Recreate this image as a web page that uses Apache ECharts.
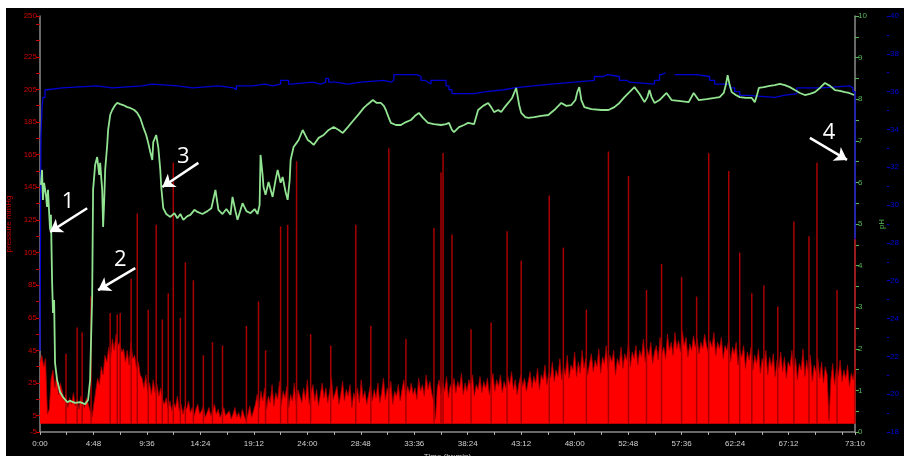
<!DOCTYPE html>
<html>
<head>
<meta charset="utf-8">
<script src="https://cdn.jsdelivr.net/npm/echarts@6/dist/echarts.min.js"></script>
<style>
html, body { margin: 0; padding: 0; background: #fff; width: 904px; height: 456px; overflow: hidden; }
#chart { position: absolute; left: 6px; top: 8px; width: 898px; height: 448px; background: #000; }
</style>
</head>
<body>
<div id="chart"></div>
<script>
// ---- recording data ----
// pressure sampled every SAMPLE_MIN minutes (mmHg)
const SAMPLE_MIN = 10;
const pressure = [
  38, 42, 35, 40, 6, 9, 28, 33, 22, 30, 18, 25, 20, 14, 18, 10, 16, 12, 19, 11,
  15, 9, 17, 13, 10, 16, 12, 8, 4, 3, 20, 28, 24, 35, 30, 42, 38, 47, 40, 52,
  45, 55, 48, 50, 44, 46, 38, 45, 36, 50, 40, 42, 34, 38, 30, 28, 22, 30, 20, 25,
  18, 27, 19, 24, 17, 22, 15, 12, 16, 9, 14, 8, 13, 10, 17, 8, 12, 6, 11, 9,
  14, 7, 10, 5, 9, 12, 6, 8, 11, 4, 7, 10, 5, 8, 12, 6, 9, 4, 7, 10,
  5, 4, 8, 3, 6, 10, 4, 7, 3, 9, 5, 2, 6, 11, 4, 8, 12, 18, 10, 20,
  14, 22, 9, 17, 13, 24, 11, 19, 15, 26, 12, 20, 16, 23, 10, 18, 14, 25, 12, 21,
  17, 13, 22, 15, 27, 12, 19, 24, 14, 21, 11, 18, 25, 16, 22, 13, 20, 28, 15, 19,
  23, 12, 18, 26, 14, 21, 17, 24, 10, 19, 15, 22, 13, 27, 16, 20, 12, 18, 24, 14,
  21, 16, 25, 13, 19, 28, 15, 22, 18, 26, 12, 20, 17, 24, 14, 21, 27, 16, 23, 19,
  25, 18, 22, 15, 28, 20, 24, 17, 30, 21, 26, 19, 14, 3, 22, 27, 18, 25, 20, 29,
  16, 24, 21, 28, 19, 26, 22, 31, 18, 25, 20, 27, 23, 30, 17, 24, 21, 29, 19, 26,
  22, 28, 18, 25, 31, 20, 27, 23, 30, 19, 26, 22, 29, 24, 32, 21, 27, 18, 25, 30,
  23, 28, 20, 26, 32, 22, 29, 25, 34, 21, 30, 27, 36, 24, 31, 28, 38, 26, 33, 29,
  40, 27, 35, 30, 42, 28, 36, 33, 44, 29, 38, 31, 45, 34, 40, 30, 37, 43, 32, 39,
  35, 46, 31, 41, 37, 48, 33, 42, 38, 45, 30, 40, 36, 47, 34, 43, 39, 50, 35, 44,
  40, 48, 36, 45, 41, 52, 38, 46, 42, 50, 37, 44, 48, 39, 53, 43, 47, 40, 55, 45,
  50, 42, 56, 46, 51, 44, 57, 48, 53, 41, 49, 45, 54, 47, 52, 43, 50, 46, 55, 48,
  44, 51, 47, 56, 42, 50, 46, 53, 40, 48, 45, 52, 38, 47, 43, 50, 36, 45, 41, 48,
  34, 44, 39, 47, 33, 42, 37, 46, 31, 40, 36, 45, 30, 41, 35, 43, 29, 39, 34, 44,
  32, 41, 28, 38, 35, 45, 30, 40, 27, 37, 33, 46, 29, 39, 31, 42, 26, 36, 32, 40,
  28, 38, 25, 35, 30, 2, 27, 37, 24, 34, 29, 39, 26, 33, 28, 36, 23, 31, 27, 35
];

// short pressure peaks (minutes, mmHg)
const spikeTime  = [140, 200, 227, 275, 378, 416, 432, 491, 524, 583, 626, 659, 691, 718, 756, 783, 826, 880, 929, 983,
                    1112, 1177, 1215, 1296, 1334, 1382, 1458, 1566, 1701, 1782, 1879, 1971, 2122, 2160, 2171, 2219, 2322, 2430, 2516, 2592,
                    2743, 2819, 2943, 3062, 3170, 3267, 3348, 3456, 3537, 3602, 3710, 3769, 3834, 3899, 3974, 4061, 4142, 4185, 4293, 4390];
const spikeValue = [43, 59, 56, 78, 68, 67, 68, 89, 129, 70, 122, 64, 80, 160, 65, 99, 88, 42, 50, 48,
                    60, 75, 45, 121, 122, 161, 55, 48, 122, 60, 169, 52, 120, 154, 166, 116, 58, 62, 118, 100,
                    140, 108, 70, 167, 152, 82, 98, 90, 78, 166, 155, 105, 80, 85, 72, 124, 115, 160, 82, 114];

// pH trace (minutes, pH)
const phTime = [5, 11, 16, 22, 32, 38, 43, 54, 59, 65, 70, 76, 81, 92, 108, 124, 146, 162, 189, 216,
  243, 259, 270, 275, 281, 286, 297, 308, 319, 324, 335, 340, 346, 351, 362, 367, 378, 389, 405, 416,
  432, 448, 470, 486, 508, 524, 540, 556, 572, 583, 594, 605, 610, 626, 637, 648, 653, 664, 680, 702,
  724, 740, 756, 772, 794, 810, 832, 848, 875, 902, 923, 945, 961, 983, 1004, 1026, 1037, 1053, 1064, 1091,
  1112, 1134, 1156, 1172, 1183, 1188, 1199, 1204, 1215, 1231, 1253, 1269, 1280, 1296, 1307, 1323, 1334, 1345, 1350, 1366,
  1382, 1393, 1415, 1431, 1442, 1458, 1474, 1501, 1528, 1555, 1582, 1609, 1631, 1658, 1690, 1717, 1744, 1766, 1793, 1814,
  1836, 1852, 1863, 1879, 1890, 1917, 1944, 1971, 1998, 2020, 2041, 2063, 2090, 2122, 2160, 2187, 2203, 2219, 2230, 2257,
  2284, 2306, 2338, 2360, 2387, 2414, 2430, 2446, 2468, 2484, 2500, 2522, 2543, 2565, 2581, 2592, 2614, 2630, 2662, 2700,
  2738, 2770, 2808, 2835, 2862, 2884, 2894, 2905, 2916, 2932, 2970, 3024, 3062, 3094, 3121, 3148, 3175, 3202, 3229, 3256,
  3272, 3283, 3294, 3310, 3337, 3375, 3402, 3440, 3494, 3521, 3548, 3591, 3634, 3661, 3683, 3694, 3704, 3715, 3726, 3748,
  3769, 3802, 3834, 3850, 3861, 3872, 3899, 3931, 3958, 3985, 4012, 4039, 4066, 4093, 4120, 4147, 4174, 4201, 4228, 4255,
  4282, 4309, 4336, 4358, 4385];
const phValue = [5.94, 6.30, 5.58, 5.99, 5.70, 5.41, 5.82, 4.86, 5.22, 3.65, 2.86, 3.17, 1.66, 1.25, 0.96, 0.84, 0.72, 0.75, 0.70, 0.72,
  0.67, 0.77, 1.25, 2.21, 3.25, 5.82, 6.42, 6.61, 6.18, 6.47, 5.82, 4.93, 5.58, 6.30, 6.90, 7.26, 7.62, 7.74, 7.86, 7.91,
  7.88, 7.86, 7.81, 7.79, 7.74, 7.67, 7.55, 7.33, 7.14, 6.95, 6.73, 6.54, 6.97, 7.14, 6.85, 6.30, 5.89, 5.38, 5.24, 5.17,
  5.26, 5.14, 5.24, 5.10, 5.19, 5.22, 5.34, 5.29, 5.24, 5.31, 5.38, 5.82, 5.34, 5.24, 5.36, 5.22, 5.65, 5.31, 5.10, 5.50,
  5.31, 5.26, 5.36, 5.24, 5.46, 6.66, 6.18, 5.89, 5.70, 6.01, 5.65, 6.06, 6.30, 5.99, 6.13, 5.77, 5.58, 6.06, 6.54, 6.85,
  6.95, 7.02, 7.26, 7.12, 7.02, 6.97, 6.90, 7.07, 7.14, 7.26, 7.33, 7.26, 7.19, 7.33, 7.50, 7.64, 7.79, 7.88, 7.98, 7.91,
  7.91, 7.84, 7.74, 7.55, 7.43, 7.38, 7.38, 7.45, 7.50, 7.60, 7.67, 7.55, 7.43, 7.40, 7.38, 7.40, 7.43, 7.26, 7.21, 7.33,
  7.38, 7.43, 7.40, 7.74, 7.84, 7.91, 7.81, 7.69, 7.74, 7.69, 7.79, 7.91, 8.03, 8.27, 7.86, 7.67, 7.57, 7.55, 7.57, 7.60,
  7.62, 7.74, 7.91, 7.84, 7.86, 7.98, 8.17, 8.29, 7.98, 7.81, 7.76, 7.74, 7.74, 7.81, 7.91, 8.05, 8.17, 8.29, 8.13, 7.93,
  8.05, 8.22, 8.05, 7.91, 7.98, 8.15, 7.98, 7.96, 7.93, 8.15, 7.98, 8.00, 8.03, 8.05, 8.15, 8.34, 8.58, 8.34, 8.17, 8.10,
  8.05, 8.03, 8.03, 7.93, 8.08, 8.27, 8.29, 8.32, 8.34, 8.37, 8.34, 8.29, 8.22, 8.15, 8.10, 8.13, 8.17, 8.27, 8.39, 8.32,
  8.22, 8.20, 8.17, 8.15, 8.10];

// temperature trace, value held until the next reading (minutes, °C); null = no reading
const tempTime = [0, 5, 11, 16, 27, 38, 119, 308, 389, 551, 605, 740, 821, 961, 1042, 1058, 1145, 1210, 1253, 1296,
  1318, 1328, 1339, 1350, 1469, 1512, 1539, 1555, 1593, 1658, 1728, 1852, 1890, 1906, 2030, 2052, 2074, 2090, 2106, 2187,
  2203, 2219, 2338, 2403, 2500, 2554, 2657, 2754, 2878, 2986, 3035, 3056, 3121, 3159, 3175, 3310, 3337, 3348, 3370, 3418,
  3537, 3607, 3634, 3715, 3742, 3769, 3812, 3958, 4007, 4077, 4212, 4363, 4379, 4390];
const tempValue = [22.3, 33.6, 35.2, 35.7, 36.1, 36.2, 36.3, 36.2, 36.3, 36.4, 36.3, 36.2, 36.3, 36.2, 36.1, 36.3, 36.4, 36.3, 36.4, 36.6,
  36.7, 36.6, 36.4, 36.5, 36.4, 36.5, 36.7, 36.5, 36.4, 36.5, 36.6, 36.5, 36.6, 36.9, 36.8, 36.6, 36.5, 36.4, 36.6, 36.3,
  36.1, 35.9, 36.0, 36.1, 36.2, 36.3, 36.4, 36.5, 36.6, 36.8, 36.9, 36.8, 36.6, 36.5, 36.4, 36.6, 36.9, 37.0, null, 36.9,
  36.8, 36.6, 36.4, 36.2, 36.0, 35.8, 35.7, 35.8, 35.9, 36.2, 36.3, 36.2, 36.0, 28.2];

// axis ticks that carry labels
const timeTickLabels = [0, 288, 576, 864, 1152, 1440, 1728, 2016, 2304, 2592, 2880, 3168, 3456, 3744, 4032, 4390];
const pressureTickLabels = [-5, 5, 25, 45, 65, 85, 105, 125, 145, 165, 185, 205, 225, 250];

// numbered event markers (minutes, pH)
const markerText   = ['1', '2', '3', '4'];
const markerTextAt = [[151, 5.53], [432, 4.13], [772, 6.61], [4250, 7.19]];
const arrowTail    = [[254, 5.38], [513, 3.94], [853, 6.47], [4147, 7.07]];
const arrowTip     = [[54, 4.81], [313, 3.41], [659, 5.89], [4347, 6.54]];

// ---- chart ----
const FONT = 'Liberation Sans, Arial, sans-serif';
const zip = (a, b) => a.map((v, i) => [v, b[i]]);
const hm = m => {
  const h = Math.floor(m / 60), mm = Math.round(m % 60);
  return h + ':' + (mm < 10 ? '0' : '') + mm;
};

const chart = echarts.init(document.getElementById('chart'), null, { renderer: 'canvas' });

chart.setOption({
  animation: false,
  backgroundColor: '#000',
  grid: { left: 34, right: 49, top: 8, bottom: 24, containLabel: false, outerBoundsMode: 'none' },
  xAxis: {
    type: 'value', min: 0, max: 4390, interval: 144,
    name: 'Time (hr:min)', nameLocation: 'middle', nameGap: 15,
    nameTextStyle: { color: '#c8c8c8', fontSize: 8, fontFamily: FONT },
    axisLine: { show: true, onZero: false, lineStyle: { color: '#8c8c8c', width: 1.5 } },
    axisTick: { show: true, length: 3, lineStyle: { color: '#b0b0b0' } },
    axisLabel: {
      color: '#d0d0d0', fontSize: 8, fontFamily: FONT, margin: 8, hideOverlap: false,
      showMinLabel: true, showMaxLabel: true,
      formatter: v => timeTickLabels.indexOf(Math.round(v)) >= 0 ? hm(v) : ''
    },
    splitLine: { show: false }
  },
  yAxis: [
    {
      type: 'value', min: -5, max: 250, interval: 10, position: 'left',
      name: 'pressure mmHg', nameLocation: 'middle', nameGap: 23, nameRotate: 90,
      nameTextStyle: { color: '#cc0000', fontSize: 8, fontFamily: FONT },
      axisLine: { show: true, lineStyle: { color: '#8c8c8c', width: 1.5 } },
      axisTick: { show: true, length: 4, lineStyle: { color: '#cc0000' } },
      axisLabel: {
        color: '#d00000', fontSize: 8, fontFamily: FONT, margin: 3,
        showMinLabel: true, showMaxLabel: true,
        formatter: v => pressureTickLabels.indexOf(Math.round(v)) >= 0 ? String(Math.round(v)) : ''
      },
      splitLine: { show: false }
    },
    {
      type: 'value', min: 0, max: 10, interval: 1, position: 'right',
      name: 'pH', nameLocation: 'middle', nameGap: 19, nameRotate: 90,
      nameTextStyle: { color: '#55b855', fontSize: 8, fontFamily: FONT },
      axisLine: { show: true, lineStyle: { color: '#8c8c8c', width: 1.5 } },
      axisTick: { show: true, length: 4, lineStyle: { color: '#55b855' } },
      minorTick: { show: true, splitNumber: 2, length: 4, lineStyle: { color: '#55b855' } },
      axisLabel: { color: '#55b855', fontSize: 8, fontFamily: FONT, margin: 3 },
      splitLine: { show: false }, minorSplitLine: { show: false }
    },
    {
      type: 'value', min: 18, max: 40, interval: 2, position: 'right', offset: 32,
      axisLine: { show: false },
      axisTick: { show: true, length: 3, lineStyle: { color: '#0000c8' } },
      minorTick: { show: true, splitNumber: 2, length: 2, lineStyle: { color: '#0000c8' } },
      axisLabel: { color: '#0000dd', fontSize: 8, fontFamily: FONT, margin: 3 },
      splitLine: { show: false }, minorSplitLine: { show: false }
    }
  ],
  series: [
    {
      name: 'pressure', type: 'line', yAxisIndex: 0, symbol: 'none', sampling: null,
      data: pressure.map((v, i) => [i * SAMPLE_MIN, v]),
      lineStyle: { color: '#a00000', width: 0.8 },
      areaStyle: { color: '#ff0000', opacity: 1, origin: 'auto' },
      z: 1
    },
    {
      name: 'pressure peaks', type: 'bar', yAxisIndex: 0, barWidth: 1.5,
      data: zip(spikeTime, spikeValue),
      itemStyle: { color: '#a80000' },
      z: 2
    },
    {
      name: 'temperature', type: 'line', yAxisIndex: 2, symbol: 'none', step: 'end',
      connectNulls: false,
      data: zip(tempTime, tempValue),
      lineStyle: { color: '#0000d0', width: 1.3 },
      z: 3
    },
    {
      name: 'pH', type: 'line', yAxisIndex: 1, symbol: 'none',
      data: zip(phTime, phValue),
      lineStyle: { color: '#92e492', width: 1.8 },
      z: 4,
      markLine: {
        silent: true, animation: false,
        symbol: ['none', 'arrow'], symbolSize: 12,
        itemStyle: { color: '#ffffff' },
        lineStyle: { color: '#ffffff', width: 2.5, type: 'solid', opacity: 1 },
        label: { show: false },
        emphasis: { disabled: true },
        data: arrowTail.map((p, i) => [
          { coord: p, symbol: 'none' },
          { coord: arrowTip[i], symbol: 'arrow', symbolSize: 12, itemStyle: { color: '#ffffff' } }
        ])
      },
      markPoint: {
        silent: true, animation: false,
        symbol: 'circle', symbolSize: 1,
        itemStyle: { color: 'rgba(0,0,0,0)' },
        label: { show: true, position: 'inside', color: '#ffffff', fontSize: 22, fontFamily: 'Open Sans, sans-serif', formatter: '{b}' },
        emphasis: { disabled: true },
        data: markerTextAt.map((p, i) => ({ coord: p, name: markerText[i] }))
      }
    }
  ]
});
</script>
</body>
</html>
